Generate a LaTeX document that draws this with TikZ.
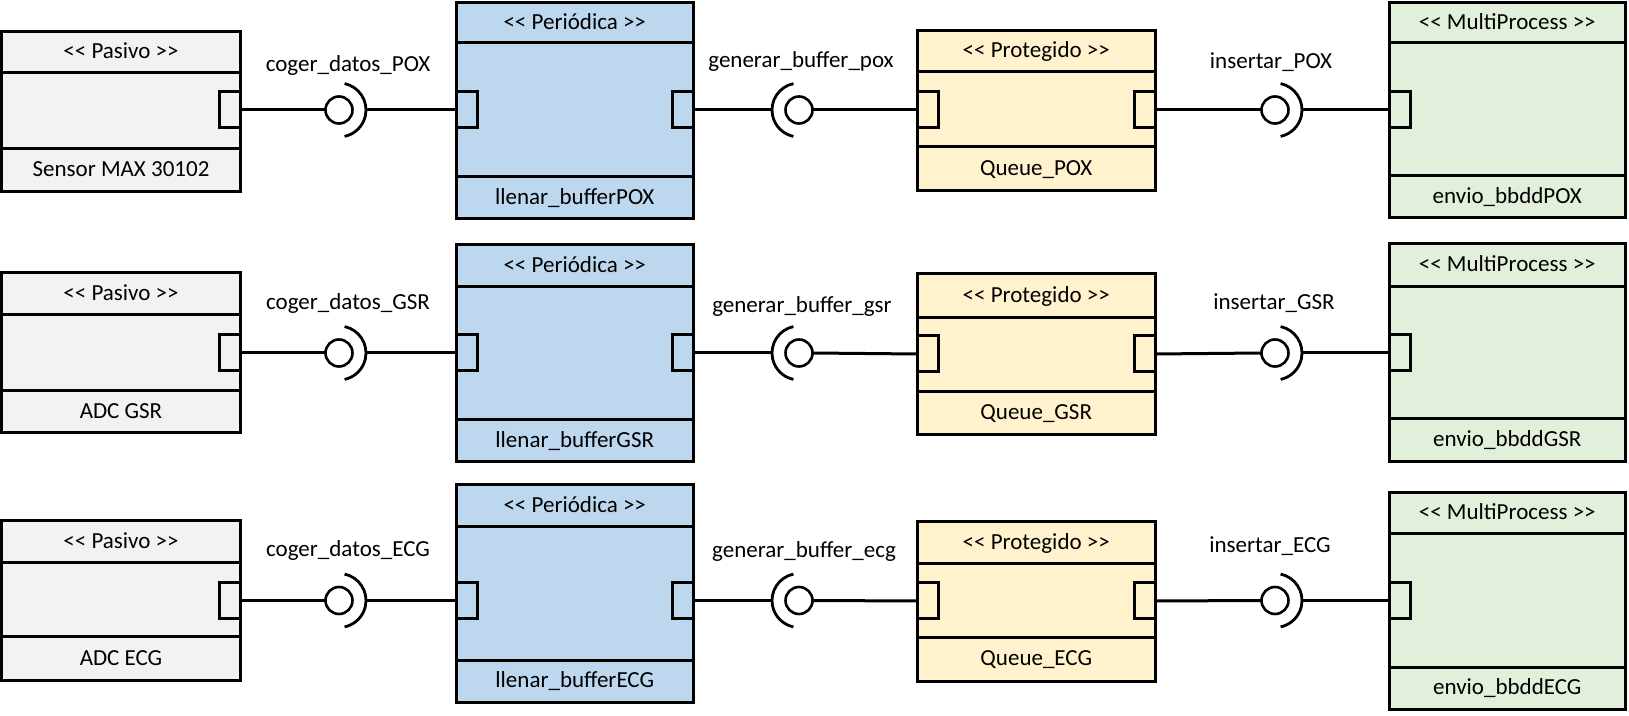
\documentclass[tikz,border=0pt]{standalone}
\usepackage{fontspec}
\setmainfont{Carlito}
\definecolor{pasivo}{HTML}{F2F2F2}
\definecolor{perio}{HTML}{BDD7EE}
\definecolor{prot}{HTML}{FFF2CC}
\definecolor{multi}{HTML}{E2EFDA}
\newcommand{\stopen}{<\kern0pt<}
\newcommand{\stclose}{>\kern0pt>}
\tikzset{
  comp/.style={draw, line width=1.5pt, inner sep=0pt, outer sep=0pt},
  port/.style={draw, line width=1.5pt, inner sep=0pt, outer sep=0pt, minimum width=10.5pt, minimum height=18pt},
  ball/.style={circle, draw, line width=1.3pt, fill=white, inner sep=0pt, outer sep=0pt, minimum size=13.5pt},
  wire/.style={line width=1.5pt},
  sock/.style={line width=1.4pt},
  txt/.style={inner sep=0pt, anchor=base, font=\fontsize{11.5pt}{13pt}\selectfont},
}
% #1 name, #2 fill, #3 L, #4 R, #5 top, #6 header line, #7 footer line, #8 bottom
\newcommand{\compbox}[8]{%
  \node[comp, fill=#2, minimum width={(#4-#3)*0.5pt}, minimum height={(#8-#5)*0.5pt}] (#1) at ({(#3+#4)/2},{(#5+#8)/2}) {};
  \draw[line width=1.5pt] (#3,#6) -- (#4,#6) (#3,#7) -- (#4,#7);
  \coordinate (#1-top) at ({(#3+#4)/2},{(#5+#6)/2+6.5});
  \coordinate (#1-bot) at ({(#3+#4)/2},{(#7+#8)/2+6.5});
}
\begin{document}
\begin{tikzpicture}[x=0.5pt, y=-0.5pt]
\useasboundingbox (0,0) rectangle (1629,716);

% ---------- Row 1 (POX) ----------
\compbox{p1}{pasivo}{1.5}{240.5}{31.5}{72.5}{149}{191.5}
\compbox{b1}{perio}{456.5}{693}{3}{43}{177}{219}
\compbox{q1}{prot}{917}{1155.5}{31}{72}{147}{191}
\compbox{g1}{multi}{1389}{1625.5}{3}{43}{176}{218}
\node[port, fill=pasivo] (p1o) at (229.75,110) {};
\node[port, fill=perio] (b1i) at (467,110) {};
\node[port, fill=perio] (b1o) at (682.5,110) {};
\node[port, fill=prot] (q1i) at (927.5,110) {};
\node[port, fill=prot] (q1o) at (1145,110) {};
\node[port, fill=multi] (g1i) at (1399.5,110) {};
\node[txt] (p1h) at (p1-top) {\stopen{} Pasivo \stclose};
\node[txt] (p1f) at (p1-bot) {Sensor MAX 30102};
\node[txt] (b1h) at (b1-top) {\stopen{} Periódica \stclose};
\node[txt] (b1f) at (b1-bot) {llenar\_bufferPOX};
\node[txt] (q1h) at (q1-top) {\stopen{} Protegido \stclose};
\node[txt] (q1f) at (q1-bot) {Queue\_POX};
\node[txt] (g1h) at (g1-top) {\stopen{} MultiProcess \stclose};
\node[txt] (g1f) at (g1-bot) {envio\_bbddPOX};
\node[ball] (k1) at (339,110) {};
\node[ball] (m1) at (799,110) {};
\node[ball] (r1) at (1275,110) {};
\coordinate (s1) at ([xshift=13.5pt]k1.center);
\coordinate (t1) at ([xshift=-13.5pt]m1.center);
\coordinate (u1) at ([xshift=13.5pt]r1.center);
\draw[sock] ([shift={(78:13.5pt)}]k1.center) arc[start angle=78, end angle=-78, radius=13.5pt];
\draw[sock] ([shift={(102:13.5pt)}]m1.center) arc[start angle=102, end angle=258, radius=13.5pt];
\draw[sock] ([shift={(78:13.5pt)}]r1.center) arc[start angle=78, end angle=-78, radius=13.5pt];
\draw[wire] (p1o.east) -- (k1.west);
\draw[wire] (s1) -- (b1i.west);
\draw[wire] (b1o.east) -- (t1);
\draw[wire] (m1.east) -- (q1i.west);
\draw[wire] (q1o.east) -- (r1.west);
\draw[wire] (u1) -- (g1i.west);
\node[txt] (l1a) at (348,72) {coger\_datos\_POX};
\node[txt] (l1b) at (801,68) {generar\_buffer\_pox};
\node[txt] (l1c) at (1271,69) {insertar\_POX};

% ---------- Row 2 (GSR) ----------
\compbox{p2}{pasivo}{1.5}{240.5}{273}{315}{391}{433}
\compbox{b2}{perio}{456.5}{693}{245}{287}{420}{462}
\compbox{q2}{prot}{917}{1155.5}{274}{318}{392}{435}
\compbox{g2}{multi}{1389}{1625.5}{244}{287}{419}{462}
\node[port, fill=pasivo] (p2o) at (229.75,353) {};
\node[port, fill=perio] (b2i) at (467,353) {};
\node[port, fill=perio] (b2o) at (682.5,353) {};
\node[port, fill=prot] (q2i) at (927.5,354) {};
\node[port, fill=prot] (q2o) at (1145,354) {};
\node[port, fill=multi] (g2i) at (1399.5,353) {};
\node[txt] (p2h) at (p2-top) {\stopen{} Pasivo \stclose};
\node[txt] (p2f) at (p2-bot) {ADC GSR};
\node[txt] (b2h) at (b2-top) {\stopen{} Periódica \stclose};
\node[txt] (b2f) at (b2-bot) {llenar\_bufferGSR};
\node[txt] (q2h) at (q2-top) {\stopen{} Protegido \stclose};
\node[txt] (q2f) at (q2-bot) {Queue\_GSR};
\node[txt] (g2h) at (g2-top) {\stopen{} MultiProcess \stclose};
\node[txt] (g2f) at (g2-bot) {envio\_bbddGSR};
\node[ball] (k2) at (339,353) {};
\node[ball] (m2) at (799,353) {};
\node[ball] (r2) at (1275,353) {};
\coordinate (s2) at ([xshift=13.5pt]k2.center);
\coordinate (t2) at ([xshift=-13.5pt]m2.center);
\coordinate (u2) at ([xshift=13.5pt]r2.center);
\draw[sock] ([shift={(78:13.5pt)}]k2.center) arc[start angle=78, end angle=-78, radius=13.5pt];
\draw[sock] ([shift={(102:13.5pt)}]m2.center) arc[start angle=102, end angle=258, radius=13.5pt];
\draw[sock] ([shift={(78:13.5pt)}]r2.center) arc[start angle=78, end angle=-78, radius=13.5pt];
\draw[wire] (p2o.east) -- (k2.west);
\draw[wire] (s2) -- (b2i.west);
\draw[wire] (b2o.east) -- (t2);
\draw[wire] (m2.east) -- (q2i.west);
\draw[wire] (q2o.east) -- (r2.west);
\draw[wire] (u2) -- (g2i.west);
\node[txt] (l2a) at (348,310) {coger\_datos\_GSR};
\node[txt] (l2b) at (802,313) {generar\_buffer\_gsr};
\node[txt] (l2c) at (1274,310) {insertar\_GSR};

% ---------- Row 3 (ECG) ----------
\compbox{p3}{pasivo}{1.5}{240.5}{521}{563}{637}{680}
\compbox{b3}{perio}{456.5}{693}{485}{527}{660}{702}
\compbox{q3}{prot}{917}{1155.5}{522}{564}{638}{681}
\compbox{g3}{multi}{1389}{1625.5}{493}{534}{667}{709}
\node[port, fill=pasivo] (p3o) at (229.75,600.5) {};
\node[port, fill=perio] (b3i) at (467,600.5) {};
\node[port, fill=perio] (b3o) at (682.5,600.5) {};
\node[port, fill=prot] (q3i) at (927.5,601) {};
\node[port, fill=prot] (q3o) at (1145,601) {};
\node[port, fill=multi] (g3i) at (1399.5,600.5) {};
\node[txt] (p3h) at (p3-top) {\stopen{} Pasivo \stclose};
\node[txt] (p3f) at (p3-bot) {ADC ECG};
\node[txt] (b3h) at (b3-top) {\stopen{} Periódica \stclose};
\node[txt] (b3f) at (b3-bot) {llenar\_bufferECG};
\node[txt] (q3h) at (q3-top) {\stopen{} Protegido \stclose};
\node[txt] (q3f) at (q3-bot) {Queue\_ECG};
\node[txt] (g3h) at (g3-top) {\stopen{} MultiProcess \stclose};
\node[txt] (g3f) at (g3-bot) {envio\_bbddECG};
\node[ball] (k3) at (339,600.5) {};
\node[ball] (m3) at (799,600.5) {};
\node[ball] (r3) at (1275,600.5) {};
\coordinate (s3) at ([xshift=13.5pt]k3.center);
\coordinate (t3) at ([xshift=-13.5pt]m3.center);
\coordinate (u3) at ([xshift=13.5pt]r3.center);
\draw[sock] ([shift={(78:13.5pt)}]k3.center) arc[start angle=78, end angle=-78, radius=13.5pt];
\draw[sock] ([shift={(102:13.5pt)}]m3.center) arc[start angle=102, end angle=258, radius=13.5pt];
\draw[sock] ([shift={(78:13.5pt)}]r3.center) arc[start angle=78, end angle=-78, radius=13.5pt];
\draw[wire] (p3o.east) -- (k3.west);
\draw[wire] (s3) -- (b3i.west);
\draw[wire] (b3o.east) -- (t3);
\draw[wire] (m3.east) -- (q3i.west);
\draw[wire] (q3o.east) -- (r3.west);
\draw[wire] (u3) -- (g3i.west);
\node[txt] (l3a) at (348,557) {coger\_datos\_ECG};
\node[txt] (l3b) at (804,558) {generar\_buffer\_ecg};
\node[txt] (l3c) at (1270,553) {insertar\_ECG};
\end{tikzpicture}
\end{document}
